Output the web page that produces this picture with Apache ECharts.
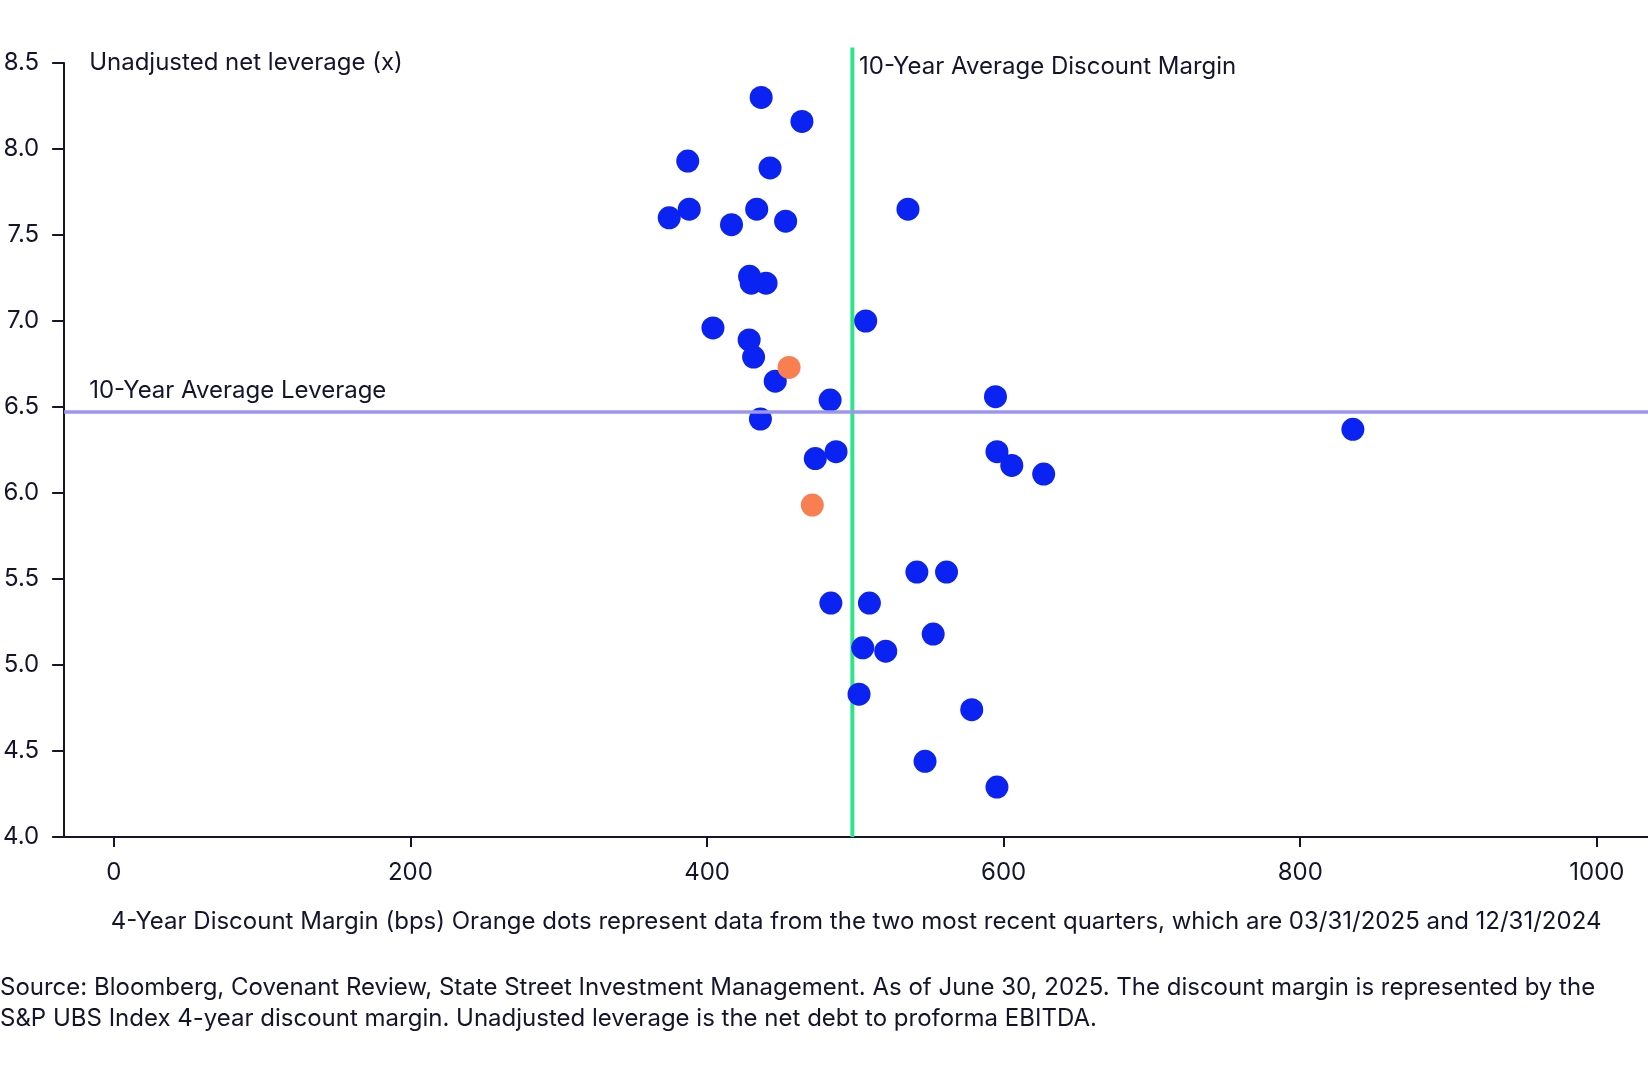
<!DOCTYPE html>
<html>
<head>
<meta charset="utf-8">
<script src="https://cdn.jsdelivr.net/npm/echarts@6/dist/echarts.min.js"></script>
<style>
html,body{margin:0;padding:0;background:#fff;}
#chart{width:1648px;height:1080px;}
</style>
</head>
<body>
<div id="chart"></div>
<script>
// ---- data ----
const blueDM  = [436.5, 464, 387, 442.5, 388, 374.5, 416.5, 433.5, 453, 535.5,
                 428.7, 429.8, 439.8, 507, 404, 428.4, 431.4, 446, 483, 436,
                 594.5, 473, 487, 595.5, 605.5, 627, 835.5, 541.5, 561.5, 483.5,
                 509.5, 552.5, 505, 520.5, 502.5, 578.5, 547, 595.5];
const blueLev = [8.30, 8.16, 7.93, 7.89, 7.65, 7.60, 7.56, 7.65, 7.58, 7.65,
                 7.26, 7.22, 7.22, 7.00, 6.96, 6.89, 6.79, 6.65, 6.54, 6.43,
                 6.56, 6.20, 6.24, 6.24, 6.16, 6.11, 6.37, 5.54, 5.54, 5.36,
                 5.36, 5.18, 5.10, 5.08, 4.83, 4.74, 4.44, 4.29];
const orangeDM  = [455.3, 471];
const orangeLev = [6.73, 5.93];
const avgDiscountMargin = 498;
const avgLeverage = 6.47;
const xTicks = [0, 200, 400, 600, 800, 1000];
const yMin = 4.0, yMax = 8.5, yStep = 0.5;
const xMin = -33.5, xMax = 1034.5;
const greenTop = 8.59;

const TXT = '#14142b';
const FONT = 'Inter';
const FS = 24;

const bluePts = blueDM.map((x, i) => [x, blueLev[i]]);
const orangePts = orangeDM.map((x, i) => [x, orangeLev[i]]);

const chart = echarts.init(document.getElementById('chart'), null, {renderer: 'canvas'});
chart.setOption({
  animation: false,
  backgroundColor: '#ffffff',
  textStyle: {fontFamily: FONT, color: TXT},
  grid: {left: 61, right: 0, top: 63, bottom: 243, containLabel: false},
  xAxis: {
    type: 'value', min: xMin, max: xMax,
    name: '4-Year Discount Margin (bps) Orange dots represent data from the two most recent quarters, which are 03/31/2025 and 12/31/2024',
    nameLocation: 'middle', nameGap: 73,
    nameTextStyle: {fontFamily: FONT, fontSize: FS, color: TXT},
    axisLine: {show: true, onZero: false, lineStyle: {color: TXT, width: 2}},
    axisTick: {show: true, length: 10, customValues: xTicks, lineStyle: {color: TXT, width: 2}},
    axisLabel: {customValues: xTicks, margin: 24, fontFamily: FONT, fontSize: FS, color: TXT,
                formatter: v => String(v)},
    splitLine: {show: false}
  },
  yAxis: {
    type: 'value', min: yMin, max: yMax, interval: yStep,
    name: 'Unadjusted net leverage (x)',
    nameLocation: 'end', nameGap: 0,
    nameTextStyle: {fontFamily: FONT, fontSize: FS, color: TXT, align: 'left', verticalAlign: 'middle', padding: [4, 0, 0, 25]},
    axisLine: {show: true, onZero: false, lineStyle: {color: TXT, width: 2}},
    axisTick: {show: true, length: 12, lineStyle: {color: TXT, width: 2}},
    axisLabel: {margin: 25, fontFamily: FONT, fontSize: FS, color: TXT, padding: [4, 0, 0, 0],
                formatter: v => v.toFixed(1)},
    splitLine: {show: false}
  },
  series: [
    {
      name: 'avgDM', type: 'line', clip: false, silent: true, z: 1,
      symbol: 'none',
      data: [[avgDiscountMargin, yMin], [avgDiscountMargin, greenTop]],
      lineStyle: {color: '#2fe38b', width: 4},
      markLine: {
        silent: true, symbol: 'none',
        lineStyle: {color: '#9b96f0', width: 3.5, type: 'solid'},
        label: {
          show: true, position: 'insideStartTop', formatter: '10-Year Average Leverage',
          fontFamily: FONT, fontSize: FS, color: TXT, distance: [25, 9]
        },
        data: [{yAxis: avgLeverage}]
      }
    },
    {
      name: 'history', type: 'scatter', z: 3,
      symbol: 'circle', symbolSize: 23,
      itemStyle: {color: '#0a22f2', opacity: 1},
      data: bluePts
    },
    {
      name: 'recent', type: 'scatter', z: 4,
      symbol: 'circle', symbolSize: 23,
      itemStyle: {color: '#f97e52', opacity: 1},
      data: orangePts
    }
  ],
  graphic: [
    {
      type: 'text', left: 859, top: 55, z: 10,
      style: {text: '10-Year Average Discount Margin', font: FS + 'px Inter', fill: TXT}
    },
    {
      type: 'text', left: 0, top: 972, z: 10,
      style: {
        text: 'Source: Bloomberg, Covenant Review, State Street Investment Management. As of June 30, 2025. The discount margin is represented by the\nS&P UBS Index 4-year discount margin. Unadjusted leverage is the net debt to proforma EBITDA.',
        font: FS + 'px Inter', fill: TXT, lineHeight: 31
      }
    }
  ]
});
</script>
</body>
</html>
